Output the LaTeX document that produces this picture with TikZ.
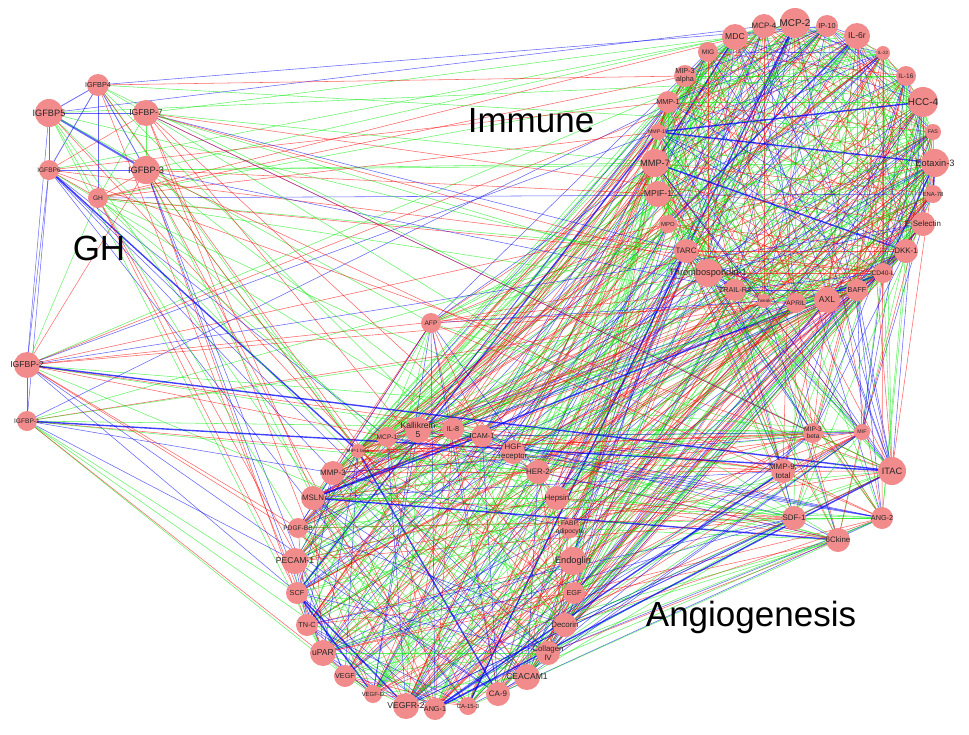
\documentclass[tikz,border=0pt]{standalone}
\usepackage{fontspec}
\setmainfont{Liberation Sans}
\usetikzlibrary{backgrounds}
\definecolor{nodefill}{RGB}{242,140,140}
\definecolor{egreen}{RGB}{0,235,0}
\definecolor{ered}{RGB}{255,0,0}
\definecolor{eblue}{RGB}{0,0,255}
\tikzset{
  protein/.style={circle,fill=nodefill,draw=none,inner sep=0pt},
  plabel/.style={text=black!85,align=center,inner sep=0pt},
  edge/.style={line width=0.55pt,opacity=0.6},
  grouplabel/.style={font=\fontsize{35}{38}\selectfont,text=black}
}
\begin{document}
\begin{tikzpicture}[x=1pt,y=-1pt]
\useasboundingbox (0,0) rectangle (969,734);
% nodes
\foreach \i/\x/\y/\r/\t in {
1/735/37/13/MDC, 2/764/26/12/MCP-4, 3/795/23/15/MCP-2, 4/827/26/11/IP-10,
5/857/36/13/IL-6r, 6/883/53/7/IL-22, 7/708/52/10/MIG, 8/685/76/11/{MIP-3\\alpha},
9/906/76/10/IL-16, 10/668/102/11/MMP-1, 11/923/102/15/HCC-4, 12/658/132/8/MMP-10,
13/933/132/8/FAS, 14/655/163/14/MMP-7, 15/935/163/14/Eotaxin-3, 16/658/194/13/MPIF-1,
17/933/194/9/ENA-78, 18/668/224/9/MPO, 19/923/224/12/E-Selectin, 20/686/251/12/TARC,
21/906/251/12/DKK-1, 22/708/273/14/Thrombospondin-1, 23/883/273/10/CD40-L,
24/735/290/11/TRAIL-R3, 25/857/290/11/BAFF, 26/764/301/7/Tweak, 27/796/303/10/APRIL,
28/827/300/13/AXL,
29/98/85/11/IGFBP4, 30/49/113/14/IGFBP5, 31/146/113/13/IGFBP-7, 32/49/170/10/IGFBP6,
33/146/170/14/IGFBP-3, 34/98/198/10/GH, 35/27/365/13/IGFBP-2, 36/27/421/10/IGFBP-1,
37/431/323/10/AFP,
38/358/451/7/MIP-1 beta, 39/387/437/10/MCP-1, 40/418/430/13/{Kallikrein\\5},
41/453/429/11/IL-8, 42/482/436/11/ICAM-1, 43/513/452/12/{HGF\\receptor},
44/333/473/12/MMP-3, 45/538/472/12/HER-2, 46/313/498/12/MSLN, 47/557/498/12/Hepsin,
48/298/528/10/PDGF-BB, 49/570/528/10/{FABP,\\adipocyte}, 50/295/561/13/PECAM-1,
51/573/561/14/Endoglin, 52/297/593/11/SCF, 53/574/593/11/EGF, 54/307/625/11/TN-C,
55/565/625/12/Decorin, 56/323/653/13/uPAR, 57/548/653/12/{Collagen\\IV},
58/345/676/11/VEGF, 59/527/677/13/CEACAM1, 60/373/694/9/VEGF-D, 61/498/694/12/CA-9,
62/406/706/13/VEGFR-2, 63/435/709/11/ANG-1, 64/468/706/9/CA-15-3,
65/813/433/10/{MIP-3\\beta}, 66/862/432/8/MIF, 67/783/471/12/{MMP-9,\\total},
68/892/471/14/ITAC, 69/794/518/12/SDF-1, 70/882/518/11/ANG-2, 71/838/540/12/6Ckine}{
  \pgfmathsetmacro\fs{0.66*\r}
  \pgfmathsetmacro\bs{0.66*\r*1.1}
  \pgfmathsetmacro\d{2*\r}
  \node[protein,minimum size=\d pt] (n\i) at (\x,\y) {};
  \node[plabel,font={\fontsize{\fs}{\bs}\selectfont}] (t\i) at (n\i.center) {\t};
}
% group labels
\node[grouplabel] (immune) at (531,121) {Immune};
\node[grouplabel] (gh) at (99,248) {GH};
\node[grouplabel] (angio) at (751,617) {Angiogenesis};
% edges
\begin{pgfonlayer}{background}
\fill[white] (0,0) rectangle (969,734);
% edges inside the GH group
\foreach \a/\b/\c/\w in {29/30/eblue/0.8, 29/32/eblue/0.8, 29/33/eblue/0.8, 30/33/eblue/2.0,
  30/31/eblue/0.6, 30/32/eblue/0.5, 32/34/ered/0.6, 32/33/eblue/0.6, 30/34/egreen/0.6,
  31/34/egreen/0.6, 29/34/eblue/0.5, 30/35/eblue/0.5, 32/35/eblue/0.5, 35/36/eblue/0.6,
  32/36/eblue/0.5, 31/33/egreen/0.5, 33/34/ered/0.6, 29/31/egreen/0.5, 34/35/egreen/0.5,
  33/35/ered/0.5, 31/32/ered/0.5}{
  \draw[edge,draw=\c,line width=\w pt] (n\a.center) -- (n\b.center);
}
\pgfmathsetseed{12}
\foreach \i in {1,...,70}{
  \pgfmathtruncatemacro\s{\i+1}
  \foreach \j in {\s,...,71}{
    \pgfmathsetmacro\p{ifthenelse(\j<29,0.72,ifthenelse(\i<29,ifthenelse(\j<37,0.14,0.34),ifthenelse(\i<37,ifthenelse(\j<37,0,0.2),0.45)))}
    \pgfmathsetmacro\u{rnd}
    \ifdim\u pt<\p pt
      \pgfmathsetmacro\v{rnd}
      \ifdim\v pt<0.46pt
        \draw[edge,draw=egreen] (n\i.center) -- (n\j.center);
      \else\ifdim\v pt<0.77pt
        \draw[edge,draw=ered] (n\i.center) -- (n\j.center);
      \else\ifdim\v pt<0.975pt
        \draw[edge,draw=eblue] (n\i.center) -- (n\j.center);
      \else
        \draw[edge,draw=eblue,line width=1.4pt,opacity=0.75] (n\i.center) -- (n\j.center);
      \fi\fi\fi
    \fi
  }
}
\end{pgfonlayer}
\end{tikzpicture}
\end{document}
